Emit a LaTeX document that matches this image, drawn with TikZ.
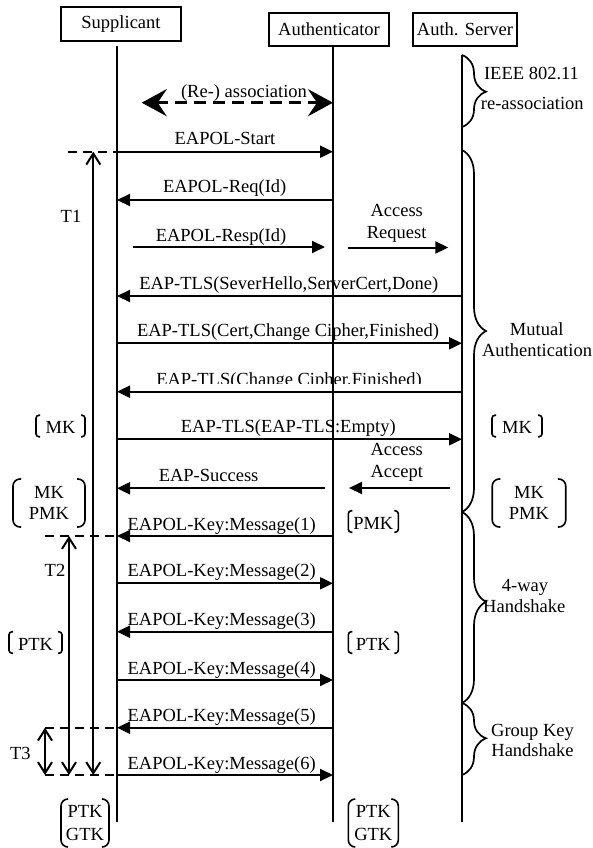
\documentclass[tikz,border=0pt]{standalone}
\usepackage{fontspec}
\setmainfont{Liberation Serif}
\usetikzlibrary{arrows.meta,decorations.pathreplacing}
\newcommand\keybrk[3]{%
  \draw[brkline,rounded corners=#3] ([xshift=#2]#1.north west) -- (#1.north west) -- (#1.south west) -- ([xshift=#2]#1.south west);
  \draw[brkline,rounded corners=#3] ([xshift=-#2]#1.north east) -- (#1.north east) -- (#1.south east) -- ([xshift=-#2]#1.south east);}
\begin{document}
\begin{tikzpicture}[x=1pt,y=-1pt,
  font=\fontsize{18.5}{21}\selectfont,
  every node/.style={inner sep=0pt,outer sep=0pt},
  actor/.style={draw,line width=1.5pt},
  life/.style={line width=2pt},
  msg/.style={line width=2pt,-{Triangle[length=13pt,width=12pt]}},
  lbl/.style={anchor=base},
  tline/.style={line width=2pt,{Straight Barb[length=11pt,width=14pt]}-{Straight Barb[length=11pt,width=14pt]}},
  dline/.style={line width=1.8pt,dash pattern=on 9pt off 6pt},
  assoc/.style={line width=3.6pt,dash pattern=on 12pt off 7pt,{Stealth[length=25pt,width=27pt,inset=9pt]}-{Stealth[length=25pt,width=27pt,inset=9pt]}},
  brc/.style={line width=1.7pt,decorate,decoration={brace,amplitude=24pt,aspect=#1}},
  brkline/.style={line width=1.6pt},
  keyone/.style={minimum height=21.5pt,text height=15pt,text depth=0pt},
  keytwo/.style={align=center,minimum height=48pt}
]
\useasboundingbox (0,0) rectangle (592,848);

% actors
\node[actor,minimum width=120pt,minimum height=34pt] (sup) at (121,24) {Supplicant};
\node[actor,minimum width=120pt,minimum height=33pt] (aut) at (329,29.5) {Authenticator};
\node[actor,minimum width=104pt,minimum height=33pt] (srv) at (465,29.5) {Auth. Server};

% lifelines
\coordinate (sL) at (117,46);  \coordinate (sE) at (117,822);
\coordinate (aL) at (333,46);  \coordinate (aE) at (333,822);
\coordinate (vL) at (462,55);  \coordinate (vE) at (462,822);
\draw[life] (sL) -- (sE);
\draw[life] (aL) -- (aE);
\draw[life] (vL) -- (vE);

% (Re-) association
\coordinate (asA) at (141.7,102.7);
\draw[assoc] (asA) -- (aL |- asA);
\node[lbl] (asT) at (244,97.5) {(Re-) association};

% messages
\draw[msg] (sL |- 0,151.7) -- (aL |- 0,151.7);
\node[lbl] (t1) at (225,144.5) {EAPOL-Start};
\draw[msg] (aL |- 0,200) -- (sL |- 0,200);
\node[lbl] (t2) at (224.7,192.7) {EAPOL-Req(Id)};
\coordinate (rs1) at (132.7,247); \coordinate (rs2) at (325,247);
\draw[msg] (rs1) -- (rs2);
\node[lbl] (t3) at (221,241.5) {EAPOL-Resp(Id)};
\coordinate (rq1) at (347.7,247.5); \coordinate (rq2) at (448.3,247.5);
\draw[msg] (rq1) -- (rq2);
\node[lbl] (t4a) at (396.7,216.3) {Access};
\node[lbl] (t4b) at (396.7,238) {Request};
\draw[msg] (vL |- 0,296) -- (sL |- 0,296);
\node[lbl] (t5) at (288.8,289) {EAP-TLS(SeverHello,ServerCert,Done)};
\draw[msg] (sL |- 0,343.3) -- (vL |- 0,343.3);
\node[lbl] (t6) at (288,336.7) {EAP-TLS(Cert,Change Cipher,Finished)};
\draw[msg] (vL |- 0,391.7) -- (sL |- 0,391.7);
\begin{scope}
\clip (0,0) rectangle (592,383.3);
\node[lbl] (t7) at (289,385.5) {EAP-TLS(Change Cipher,Finished)};
\end{scope}
\draw[msg] (sL |- 0,439.3) -- (vL |- 0,439.3);
\node[lbl] (t8) at (288.3,432.5) {EAP-TLS(EAP-TLS:Empty)};
\coordinate (ac1) at (450,488); \coordinate (ac2) at (349,488);
\draw[msg] (ac1) -- (ac2);
\node[lbl] (t9a) at (396.7,455.7) {Access};
\node[lbl] (t9b) at (396.7,477.3) {Accept};
\coordinate (sc1) at (325,488.3);
\draw[msg] (sc1) -- (sL |- sc1);
\node[lbl] (t10) at (208.6,481) {EAP-Success};
\draw[msg] (aL |- 0,536) -- (sL |- 0,536);
\node[lbl] (k1) at (221.7,530.7) {EAPOL-Key:Message(1)};
\draw[msg] (sL |- 0,583.3) -- (aL |- 0,583.3);
\node[lbl] (k2) at (221.7,576.7) {EAPOL-Key:Message(2)};
\draw[msg] (aL |- 0,631.7) -- (sL |- 0,631.7);
\node[lbl] (k3) at (221.7,625) {EAPOL-Key:Message(3)};
\draw[msg] (sL |- 0,680) -- (aL |- 0,680);
\node[lbl] (k4) at (221.7,674) {EAPOL-Key:Message(4)};
\draw[msg] (aL |- 0,727.7) -- (sL |- 0,727.7);
\node[lbl] (k5) at (221.7,721.7) {EAPOL-Key:Message(5)};
\draw[msg] (sL |- 0,775) -- (aL |- 0,775);
\node[lbl] (k6) at (221.7,769.3) {EAPOL-Key:Message(6)};

% timing markers
\coordinate (d1) at (68,151.7);
\coordinate (d2) at (45,536);
\coordinate (d3) at (45,727.7);
\coordinate (d4) at (45,775);
\draw[dline] (d1) -- (sL |- d1);
\draw[dline] (d2) -- (sL |- d2);
\draw[dline] (d3) -- (sL |- d3);
\draw[dline] (d4) -- (sL |- d4);
\coordinate (T1a) at (93.3,151.7); \coordinate (T1b) at (93.3,775);
\coordinate (T2a) at (69,536);     \coordinate (T2b) at (69,775);
\coordinate (T3a) at (45,727.7);   \coordinate (T3b) at (45,775);
\draw[tline] (T1a) -- (T1b);
\draw[tline] (T2a) -- (T2b);
\draw[tline] (T3a) -- (T3b);
\node[lbl] (T1) at (71,222.7) {T1};
\node[lbl] (T2) at (55,576.7) {T2};
\node[lbl] (T3) at (20.3,759.3) {T3};

% braces
\coordinate (b0) at (462,55);
\coordinate (b1) at (462,127);
\coordinate (b2) at (462,150);
\coordinate (b3) at (462,512);
\coordinate (b4) at (462,703);
\coordinate (b5) at (462,775);
\draw[brc=0.51] (b0) -- (b1);
\draw[brc=0.5] (b2) -- (b3);
\draw[brc=0.47] (b3) -- (b4);
\draw[brc=0.49] (b4) -- (b5);
\node[lbl] (s1a) at (531.5,79.5) {IEEE 802.11};
\node[lbl] (s1b) at (532.3,110) {re-association};
\node[lbl] (s2a) at (536.7,335) {Mutual};
\node[lbl] (s2b) at (537,356) {Authentication};
\node[lbl] (s3a) at (525,591.7) {4-way};
\node[lbl] (s3b) at (524.3,612.7) {Handshake};
\node[lbl] (s4a) at (532.5,736) {Group Key};
\node[lbl] (s4b) at (532.5,756.7) {Handshake};

% key brackets
\node[keyone,minimum width=49pt] (mkL) at (60.5,426) {MK};
\node[keyone,minimum width=50pt] (mkR) at (517,426) {MK};
\node[keyone,minimum width=50pt] (pmkA) at (373.3,521.5) {PMK};
\node[keyone,minimum width=53pt] (ptkL) at (35.5,642.5) {PTK};
\node[keyone,minimum width=50pt] (ptkA) at (373.3,642.5) {PTK};
\node[keytwo,minimum width=72pt] (mpL) at (49,503) {MK\\PMK};
\node[keytwo,minimum width=73.5pt] (mpR) at (529,503) {MK\\PMK};
\node[keytwo,minimum width=48pt,font=\fontsize{18.5}{22.5}\selectfont] (pgL) at (85,823) {PTK\\GTK};
\node[keytwo,minimum width=50pt,font=\fontsize{18.5}{22.5}\selectfont] (pgA) at (373.3,823) {PTK\\GTK};
\keybrk{mkL}{4pt}{3pt}
\keybrk{mkR}{4pt}{3pt}
\keybrk{pmkA}{4pt}{3pt}
\keybrk{ptkL}{4pt}{3pt}
\keybrk{ptkA}{4pt}{3pt}
\keybrk{mpL}{8pt}{7pt}
\keybrk{mpR}{8pt}{7pt}
\keybrk{pgL}{7pt}{7pt}
\keybrk{pgA}{7pt}{7pt}
\end{tikzpicture}
\end{document}
